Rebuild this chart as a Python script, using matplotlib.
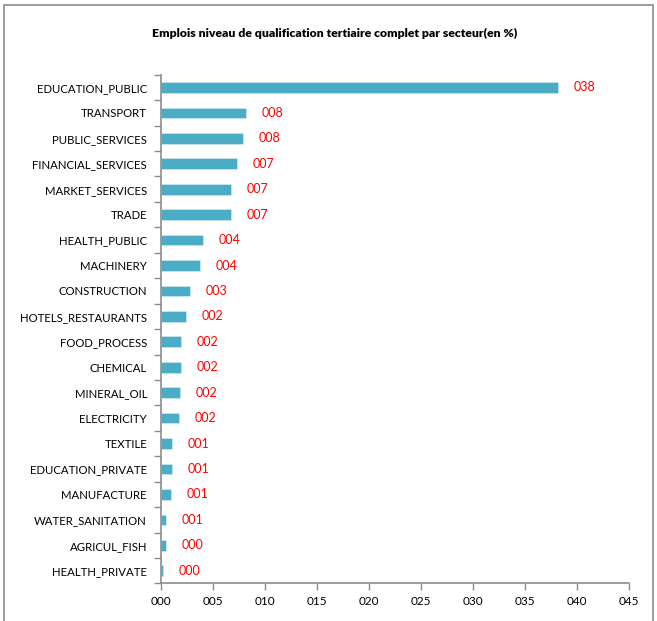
import matplotlib.pyplot as plt
from matplotlib.patches import Rectangle
import numpy as np

plt.rcParams['font.family'] = ['Lato', 'DejaVu Sans']

sectors = ["EDUCATION_PUBLIC", "TRANSPORT", "PUBLIC_SERVICES", "FINANCIAL_SERVICES",
           "MARKET_SERVICES", "TRADE", "HEALTH_PUBLIC", "MACHINERY", "CONSTRUCTION",
           "HOTELS_RESTAURANTS", "FOOD_PROCESS", "CHEMICAL", "MINERAL_OIL", "ELECTRICITY",
           "TEXTILE", "EDUCATION_PRIVATE", "MANUFACTURE", "WATER_SANITATION",
           "AGRICUL_FISH", "HEALTH_PRIVATE"]
shares = [38.2, 8.2, 7.86, 7.34, 6.73, 6.70, 4.0, 3.79, 2.76, 2.44,
          1.96, 1.89, 1.86, 1.77, 1.09, 1.03, 1.0, 0.52, 0.45, 0.23]
xticks = [0, 5, 10, 15, 20, 25, 30, 35, 40, 45]

fig = plt.figure(figsize=(6.57, 6.21), dpi=100)
ax = fig.add_axes([0.245, 0.0604, 0.712, 0.8193])

# chart frame like a spreadsheet chart area
fig.patches.append(Rectangle((4 / 657, -0.05), 649 / 657, 1.05 - 5 / 621,
                             transform=fig.transFigure, fill=False,
                             edgecolor="#8c8c8c", linewidth=1.2))

n = len(sectors)
ypos = np.arange(n)[::-1]
ax.barh(ypos, shares, height=0.42, color="#4BACC6", edgecolor="#d8eef4", linewidth=0.4)

for y, v in zip(ypos, shares):
    ax.text(v + 1.5, y, f"{int(v + 0.5):03d}", color="#ff0000", fontsize=9,
            va="center", ha="left")

ax.set_xlim(0, 45)
ax.set_ylim(-0.5, n - 0.5)
ax.set_xticks(xticks)
ax.set_xticklabels([f"{t:03d}" for t in xticks], fontsize=8.5)

# ticks at category boundaries, labels at centres
ax.set_yticks(np.arange(n + 1) - 0.5)
ax.set_yticklabels([])
ax.set_yticks(ypos, minor=True)
ax.set_yticklabels(sectors, minor=True, fontsize=8.2)
ax.tick_params(axis="y", which="minor", length=0, pad=10)
ax.tick_params(axis="y", which="major", length=5, color="#8c8c8c", width=1)
ax.tick_params(axis="x", length=5, color="#8c8c8c", width=1, pad=4)

for side in ["top", "right"]:
    ax.spines[side].set_visible(False)
for side in ["left", "bottom"]:
    ax.spines[side].set_color("#8c8c8c")
    ax.spines[side].set_linewidth(1.2)

fig.text(335 / 657, 1 - 33 / 621, "Emplois niveau de qualification tertiaire complet par secteur(en %)",
         ha="center", va="center", fontsize=8.8, fontweight="heavy")

fig.savefig("out.png", dpi=100)
